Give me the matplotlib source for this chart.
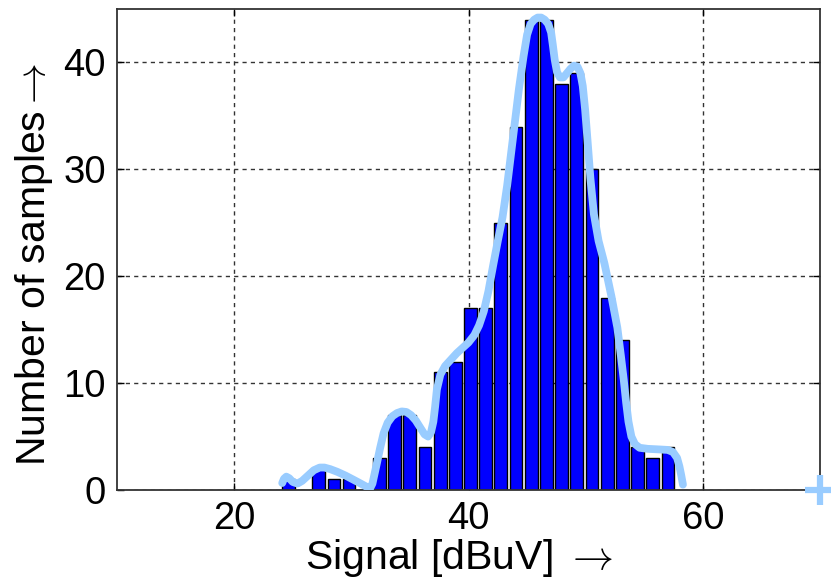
import numpy as np
import matplotlib.pyplot as plt

plt.rcParams['font.family'] = ['Liberation Sans', 'DejaVu Sans']
plt.rcParams['mathtext.fontset'] = 'cm'

# histogram bins (centres in dBuV) and counts
bin_centres = [24.62, 25.92, 27.21, 28.51, 29.80, 31.10, 32.40, 33.69, 34.99, 36.28,
               37.58, 38.88, 40.17, 41.47, 42.76, 44.06, 45.36, 46.65, 47.95, 49.24,
               50.54, 51.84, 53.13, 54.43, 55.72, 57.02]
counts = [1, 0, 2, 1, 1, 0, 3, 7, 7, 4,
          11, 12, 17, 17, 25, 34, 44, 44, 38, 39,
          30, 18, 14, 4, 3, 4]
bin_width = 1.296

# smoothed density curve
curve_x = [24.1, 24.25, 24.45, 24.7, 25.0, 25.4, 25.8, 26.3, 26.8, 27.3, 27.7, 28.2,
           28.8, 29.5, 30.2, 30.8, 31.3, 31.6, 31.8, 32.0, 32.2, 32.45, 32.75, 33.1,
           33.5, 33.9, 34.3, 34.7, 35.1, 35.5, 35.9, 36.25, 36.55, 36.8, 37.0, 37.15,
           37.3, 37.6, 38.0, 38.5, 39.0, 39.5, 40.0, 40.5, 40.9, 41.3, 41.7, 42.1,
           42.5, 42.9, 43.3, 43.8, 44.3, 44.7, 45.0, 45.3, 45.6, 45.9, 46.2, 46.5,
           46.8, 47.05, 47.2, 47.35, 47.55, 47.8, 48.1, 48.4, 48.7, 49.0, 49.3, 49.55,
           49.75, 49.95, 50.15, 50.4, 50.7, 51.1, 51.6, 52.2, 52.7, 53.0, 53.25, 53.45,
           53.65, 53.9, 54.2, 54.6, 55.3, 56.2, 57.0, 57.45, 57.8, 58.0, 58.15, 58.3]
curve_y = [0.65, 1.05, 1.25, 1.1, 0.75, 0.6, 0.85, 1.35, 1.85, 2.1, 2.1, 1.95,
           1.7, 1.35, 0.95, 0.6, 0.3, 0.15, 0.6, 1.6, 2.6, 3.9, 5.3, 6.3,
           6.9, 7.2, 7.35, 7.3, 7.0, 6.5, 5.8, 5.2, 5.0, 5.4, 6.4, 7.8,
           9.4, 10.8, 11.6, 12.2, 12.8, 13.3, 13.8, 14.5, 15.4, 16.7, 18.6, 21.0,
           23.3, 25.5, 28.5, 33.0, 37.5, 40.6, 42.6, 43.6, 44.0, 44.2, 44.2, 44.0,
           43.6, 42.8, 41.6, 40.3, 39.1, 38.6, 38.6, 39.0, 39.4, 39.7, 39.6, 39.0,
           37.8, 35.6, 32.8, 29.2, 25.8, 23.3, 21.2, 18.1, 15.2, 12.6, 10.3, 8.2,
           6.4, 5.0, 4.3, 3.95, 3.85, 3.8, 3.75, 3.55, 3.0, 2.2, 1.4, 0.5]

fig = plt.figure(figsize=(8.31, 5.85), dpi=100)
ax = fig.add_axes([0.1408, 0.1624, 0.846, 0.8222])

ax.bar(bin_centres, counts, width=0.84 * bin_width, color='#0000ff',
       edgecolor='black', linewidth=1.0, zorder=2)
ax.plot(curve_x, curve_y, color='#99ccff', linewidth=5.6,
        solid_capstyle='round', solid_joinstyle='round', zorder=3)
ax.plot([70], [0], marker='+', color='#99ccff', markersize=22,
        markeredgewidth=4.5, clip_on=False, zorder=4)

ax.set_xlim(10, 70)
ax.set_ylim(0, 45)
ax.set_xticks([20, 40, 60])
ax.set_yticks([0, 10, 20, 30, 40])
ax.set_axisbelow(True)
ax.grid(True, color='#333333', linestyle=(0, (3, 3)), linewidth=1.0)
ax.tick_params(direction='in', length=5, width=1, top=True, right=True,
               labelsize=27.5, colors='black', pad=8)
for s in ax.spines.values():
    s.set_linewidth(1.3)
    s.set_color('#333333')

ax.set_xlabel(r'Signal [dBuV] $\rightarrow$', fontsize=29.5, labelpad=0)
ax.set_ylabel(r'Number of samples$\rightarrow$', fontsize=29.5, labelpad=6)
ax.xaxis.label.set_x(0.486)
ax.yaxis.label.set_y(0.47)

fig.savefig('out.png', dpi=100)
